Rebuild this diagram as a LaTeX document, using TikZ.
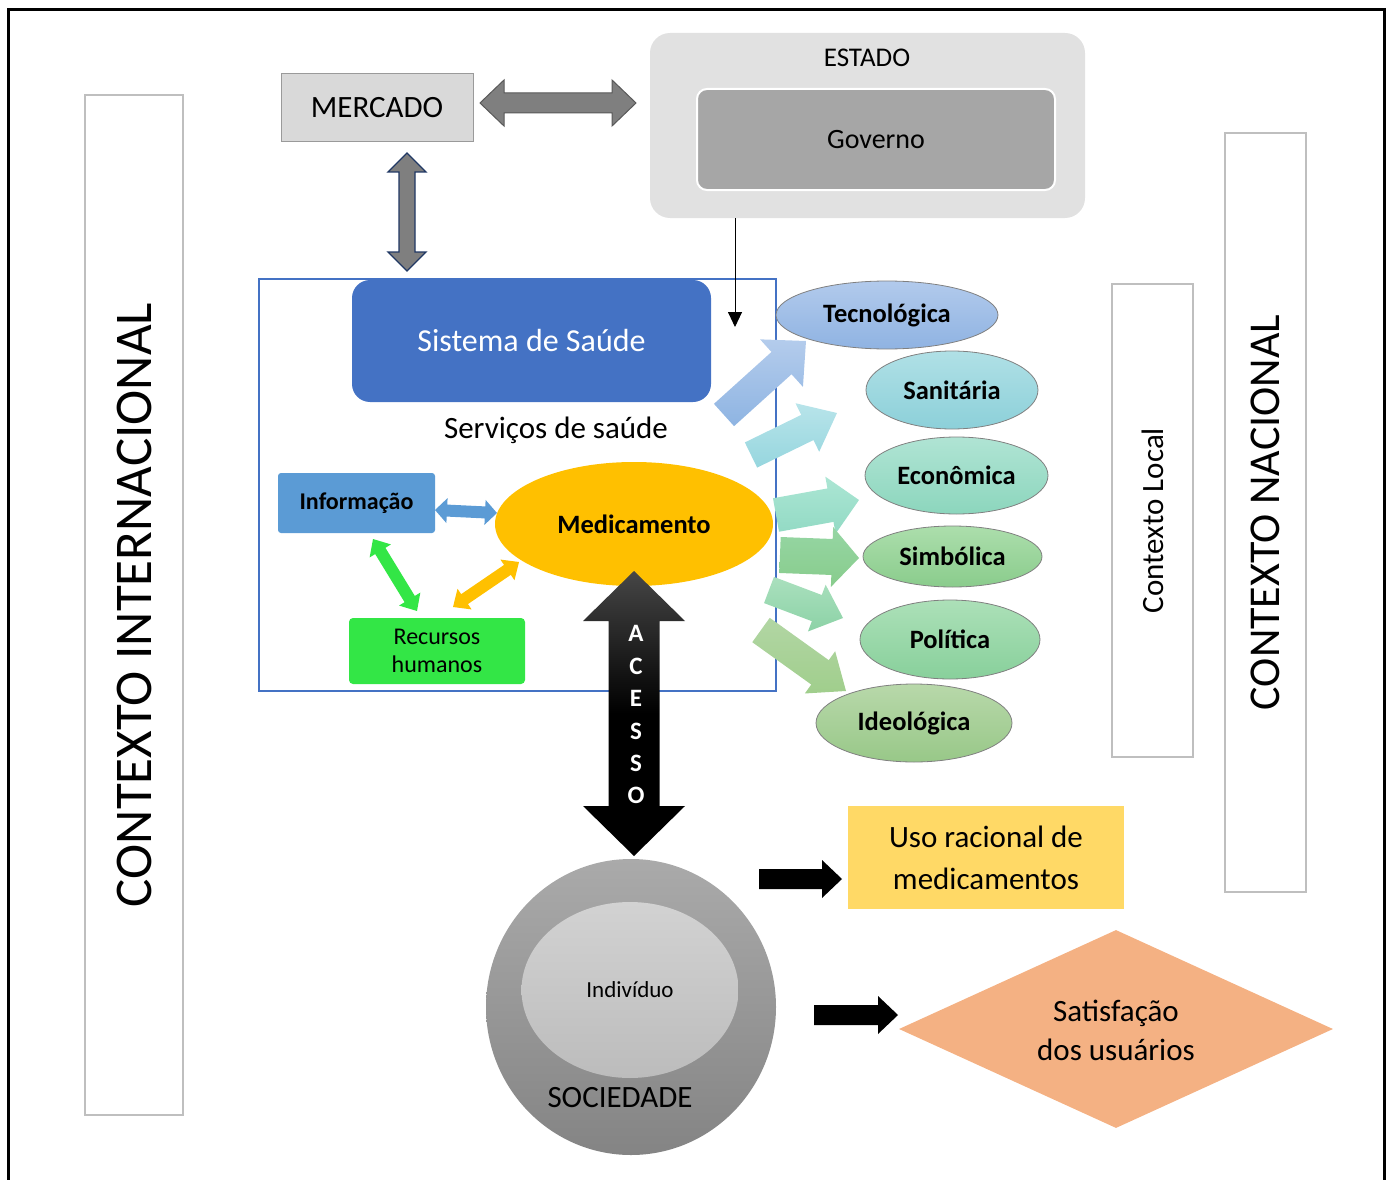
\documentclass[tikz,border=0pt]{standalone}
\usepackage{fontspec}
\setmainfont{Carlito}
\usetikzlibrary{shapes.geometric,calc,arrows.meta}

\definecolor{ctxgray}{HTML}{BFBFBF}
\definecolor{mercfill}{HTML}{D9D9D9}
\definecolor{mercdraw}{HTML}{9A9A9A}
\definecolor{estfill}{HTML}{E1E1E1}
\definecolor{govfill}{HTML}{A6A6A6}
\definecolor{sysblue}{HTML}{4472C4}
\definecolor{infoblue}{HTML}{5B9BD5}
\definecolor{medorange}{HTML}{FFC000}
\definecolor{recgreen}{HTML}{33E646}
\definecolor{usoyellow}{HTML}{FFD966}
\definecolor{satorange}{HTML}{F4B183}
\definecolor{arrgray}{HTML}{7F7F7F}
\definecolor{arrgrayd}{HTML}{595959}
\definecolor{navy}{HTML}{203864}
% ellipse gradients
\definecolor{tecT}{HTML}{B2CAEC}\definecolor{tecB}{HTML}{8FB3E2}
\definecolor{sanT}{HTML}{B0E0E6}\definecolor{sanB}{HTML}{8CD0D9}
\definecolor{ecoT}{HTML}{B0E4D4}\definecolor{ecoB}{HTML}{8CD6BD}
\definecolor{simT}{HTML}{ACDEAC}\definecolor{simB}{HTML}{8ACC8C}
\definecolor{polT}{HTML}{ACE0B8}\definecolor{polB}{HTML}{88D09B}
\definecolor{ideT}{HTML}{B8D8AA}\definecolor{ideB}{HTML}{98C888}
% fat arrow gradients
\definecolor{a1T}{HTML}{B4CCEC}\definecolor{a1B}{HTML}{8EB4E2}
\definecolor{a2T}{HTML}{B8E4EA}\definecolor{a2B}{HTML}{96D6DE}
\definecolor{a3T}{HTML}{ACE6D4}\definecolor{a3B}{HTML}{92DAC4}
\definecolor{a4T}{HTML}{96D6A4}\definecolor{a4B}{HTML}{88CC8C}
\definecolor{a5T}{HTML}{AAE0BE}\definecolor{a5B}{HTML}{8CD2A6}
\definecolor{a6T}{HTML}{B2D6A4}\definecolor{a6B}{HTML}{A0CE8C}
\definecolor{acT}{HTML}{464646}
\definecolor{socT}{HTML}{AAAAAA}\definecolor{socB}{HTML}{848484}
\definecolor{indT}{HTML}{D2D2D2}\definecolor{indB}{HTML}{BCBCBC}

% fat single arrow: #1 tail, #2 tip, #3 shaft half width, #4 head half width, #5 head length, #6 options
\newcommand\fatarrow[6]{%
  \path ($(#2)!#5!(#1)$) coordinate (fa-h);
  \path[#6] ($(#1)!#3!90:(#2)$) -- ($(fa-h)!#3!90:(#2)$) -- ($(fa-h)!#4!90:(#2)$) -- (#2)
    -- ($(fa-h)!#4!-90:(#2)$) -- ($(fa-h)!#3!-90:(#2)$) -- ($(#1)!#3!-90:(#2)$) -- cycle;
}
% fat double arrow: #1 end a, #2 end b, #3 shaft half, #4 head half, #5 head length, #6 options
\newcommand\fatdouble[6]{%
  \path ($(#1)!#5!(#2)$) coordinate (da-a) ($(#2)!#5!(#1)$) coordinate (da-b);
  \path[#6] (#1) -- ($(da-a)!#4!90:(#2)$) -- ($(da-a)!#3!90:(#2)$) -- ($(da-b)!#3!-90:(#1)$)
    -- ($(da-b)!#4!-90:(#1)$) -- (#2) -- ($(da-b)!#4!90:(#1)$) -- ($(da-b)!#3!90:(#1)$)
    -- ($(da-a)!#3!-90:(#2)$) -- ($(da-a)!#4!-90:(#2)$) -- cycle;
}

\begin{document}
\begin{tikzpicture}[x=1pt,y=-1pt,
  ctxbox/.style={draw=ctxgray, line width=2pt, rotate=90, inner sep=0pt, fill=white},
  box/.style={inner sep=0pt, align=center},
  dimell/.style={ellipse, inner sep=0pt, draw=black!50, line width=0.8pt,
     font=\fontsize{26.5}{30}\selectfont\bfseries},
  f31/.style={font=\fontsize{31}{37}\selectfont},
]
\useasboundingbox (0,0) rectangle (1390,1180);

% outer frame (open at bottom)
\draw[line width=3pt] (8,1190) -- (8,9.5) -- (1384,9.5) -- (1384,1190);

% context boxes
\node[ctxbox, minimum width=1020pt, minimum height=98pt, font=\fontsize{53}{60}\selectfont]
  (intl) at (134,605) {CONTEXTO INTERNACIONAL};
\node[ctxbox, minimum width=759pt, minimum height=81pt, font=\fontsize{44}{50}\selectfont]
  (nac) at (1265.5,512.5) {CONTEXTO NACIONAL};
\node[ctxbox, minimum width=473pt, minimum height=81pt, font=\fontsize{31}{37}\selectfont]
  (loc) at (1152.5,520.5) {Contexto Local};

% MERCADO
\node[box, draw=mercdraw, fill=mercfill, line width=1pt, minimum width=192pt, minimum height=68pt, f31]
  (merc) at (377,108) {MERCADO};

% ESTADO / Governo
\node[box, fill=estfill, rounded corners=20pt, minimum width=435pt, minimum height=185pt]
  (estado) at (867.5,125.5) {};
\node[font=\fontsize{27}{32}\selectfont] (estadolbl) at (867,58) {ESTADO};
\node[box, fill=govfill, draw=white, line width=2pt, rounded corners=10pt, minimum width=358pt,
  minimum height=101pt, font=\fontsize{28}{33}\selectfont] (gov) at (876,139.5) {Governo};

% arrows Mercado <-> Estado, Mercado <-> Sistema
\coordinate (me1) at (480,103);
\coordinate (me2) at (636,103);
\fatdouble{me1}{me2}{10pt}{23pt}{24pt}{fill=arrgray, draw=arrgrayd, line width=1pt}
\coordinate (ms1) at (407,153);
\coordinate (ms2) at (407,271);
\fatdouble{ms1}{ms2}{8pt}{19pt}{19pt}{fill=arrgray, draw=navy, line width=1.3pt}

% services box
\node[draw=sysblue, line width=1.6pt, minimum width=517pt, minimum height=412pt, inner sep=0pt]
  (serv) at (517.5,485) {};
\node[box, fill=sysblue, rounded corners=18pt, minimum width=359pt, minimum height=122pt,
  text=white, font=\fontsize{32}{38}\selectfont] (sis) at (531.5,341) {Sistema de Saúde};
\node[f31] (servlbl) at (556,430) {Serviços de saúde};

% thin arrow from Estado
\coordinate (t1) at (735,218);
\coordinate (t2) at (735,327);
\draw[line width=0.9pt, -{Triangle[length=15pt,width=14pt]}] (t1) -- (t2);

% inner nodes
\node[box, fill=infoblue, rounded corners=3pt, minimum width=157pt, minimum height=60pt,
  font=\fontsize{24}{28}\selectfont\bfseries] (info) at (356.5,503) {Informação};
\node[ellipse, fill=medorange, inner sep=0pt, minimum width=278pt, minimum height=124pt,
  font=\fontsize{26.5}{30}\selectfont\bfseries] (med) at (634,524) {Medicamento};
\node[box, fill=recgreen, rounded corners=4pt, minimum width=176pt, minimum height=66pt,
  font=\fontsize{24}{28}\selectfont] (rec) at (437,651) {Recursos\\humanos};

\coordinate (im1) at (435,510);
\coordinate (im2) at (497,513);
\fatdouble{im1}{im2}{6pt}{12.5pt}{12pt}{fill=infoblue}
\coordinate (ir1) at (373,539);
\coordinate (ir2) at (417,611);
\fatdouble{ir1}{ir2}{6pt}{12.5pt}{14pt}{fill=recgreen}
\coordinate (rm1) at (453,607);
\coordinate (rm2) at (519,562);
\fatdouble{rm1}{rm2}{6pt}{12.5pt}{14pt}{fill=medorange}

% dimension ellipses
\node[dimell, top color=tecT, bottom color=tecB, minimum width=222pt, minimum height=68pt] (tec) at (887,315) {Tecnológica};
\node[dimell, top color=sanT, bottom color=sanB, minimum width=172pt, minimum height=78pt] (san) at (952,390) {Sanitária};
\node[dimell, top color=ecoT, bottom color=ecoB, minimum width=183pt, minimum height=77pt] (eco) at (956.5,475.5) {Econômica};
\node[dimell, top color=simT, bottom color=simB, minimum width=179pt, minimum height=61pt] (sim) at (952.5,556.5) {Simbólica};
\node[dimell, top color=polT, bottom color=polB, minimum width=180pt, minimum height=79pt] (pol) at (950,639.5) {Política};
\node[dimell, top color=ideT, bottom color=ideB, minimum width=196pt, minimum height=78pt] (ide) at (914,723) {Ideológica};

% fat arrows toward the dimensions
\coordinate (a1t) at (724,415); \coordinate (a1h) at (806,341);
\fatarrow{a1t}{a1h}{15pt}{32pt}{33pt}{top color=a1T, bottom color=a1B}
\coordinate (a2t) at (751,455); \coordinate (a2h) at (837,413);
\fatarrow{a2t}{a2h}{14pt}{27pt}{33pt}{top color=a2T, bottom color=a2B}
\coordinate (a3t) at (776,515); \coordinate (a3h) at (859,500);
\fatarrow{a3t}{a3h}{17pt}{29pt}{29pt}{top color=a3T, bottom color=a3B}
\coordinate (a4t) at (780,555); \coordinate (a4h) at (859,558);
\fatarrow{a4t}{a4h}{18pt}{30pt}{27pt}{top color=a4T, bottom color=a4B}
\coordinate (a5t) at (769,590); \coordinate (a5h) at (843,618);
\fatarrow{a5t}{a5h}{14pt}{25pt}{28pt}{top color=a5T, bottom color=a5B}
\coordinate (a6t) at (761,630); \coordinate (a6h) at (846,691);
\fatarrow{a6t}{a6h}{15pt}{26pt}{32pt}{top color=a6T, bottom color=a6B}

% ACESSO arrow
\coordinate (ac1) at (634,571);
\coordinate (ac2) at (634,856);
\fatdouble{ac1}{ac2}{25.5pt}{51pt}{50pt}{top color=acT, bottom color=black, middle color=black}
\foreach \l/\yy [count=\i] in {A/633,C/666,E/698,S/731,S/763,O/795}
  \node[text=white, font=\fontsize{25}{28}\selectfont\bfseries] (acl\i) at (636,\yy) {\l};

% Sociedade / Individuo
\node[ellipse, inner sep=0pt, minimum width=290pt, minimum height=296pt,
  top color=socT, bottom color=socB] (soc) at (631,1007) {};
\node[ellipse, inner sep=0pt, minimum width=217pt, minimum height=176pt,
  top color=indT, bottom color=indB, font=\fontsize{23}{27}\selectfont] (ind) at (630,990) {Indivíduo};
\node[f31] (soclbl) at (620,1098) {SOCIEDADE};

% outcomes
\node[box, fill=usoyellow, minimum width=276pt, minimum height=103pt,
  font=\fontsize{31}{42}\selectfont] (uso) at (986,857.5) {Uso racional de\\medicamentos};
\node[diamond, fill=satorange, inner sep=0pt, minimum width=434pt, minimum height=198pt]
  (sat) at (1116,1029) {};
\node[align=center, font=\fontsize{31}{39}\selectfont] (satlbl) at (1116,1030) {Satisfação\\dos usuários};

\coordinate (b1t) at (759,879); \coordinate (b1h) at (842,879);
\fatarrow{b1t}{b1h}{10pt}{19pt}{20pt}{fill=black}
\coordinate (b2t) at (814,1015); \coordinate (b2h) at (898,1015);
\fatarrow{b2t}{b2h}{10pt}{19pt}{20pt}{fill=black}
\end{tikzpicture}
\end{document}
